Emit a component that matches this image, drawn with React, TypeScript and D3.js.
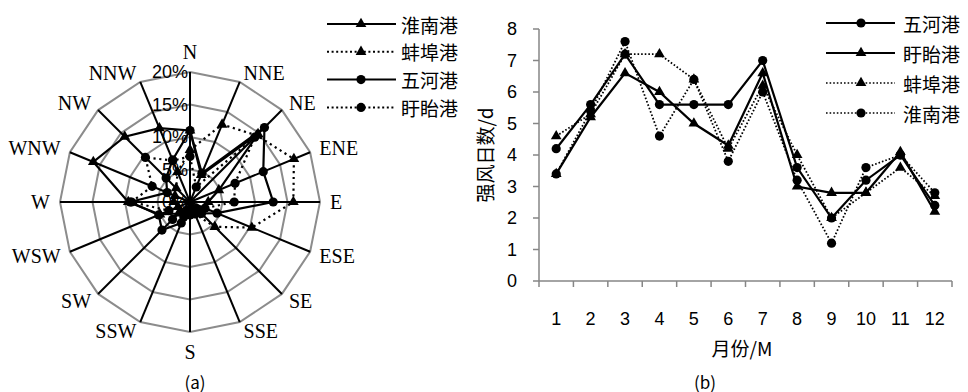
import React from "react";
import * as d3 from "d3";

// wind directions for the rose (a)
const directions = ["N", "NNE", "NE", "ENE", "E", "ESE", "SE", "SSE", "S", "SSW", "SW", "WSW", "W", "WNW", "NW", "NNW"];
const radarTicks = [0, 5, 10, 15, 20];

// frequency (%) per direction
const roseHuainan = [11, 4.5, 14.8, 4.8, 2.8, 2.5, 1.5, 1.2, 1.0, 1.5, 2.5, 5.0, 9.5, 16.1, 14.2, 12.3];
const roseBengbu = [8.0, 12.9, 14.5, 17.3, 15.9, 10.3, 5.4, 2.0, 1.2, 1.5, 2.0, 2.0, 2.5, 2.5, 3.0, 5.0];
const roseWuhe = [11, 4.8, 16.2, 12.2, 12.8, 4.5, 2.5, 2.0, 2.0, 3.5, 6.1, 5.2, 9.2, 3.8, 5.2, 7.0];
const roseXuyi = [7.0, 2.5, 14.1, 7.5, 6.8, 2.5, 1.5, 1.5, 1.5, 2.5, 3.8, 3.5, 9.0, 6.3, 9.7, 6.9];

// strong wind days per month (b)
const months = ["1", "2", "3", "4", "5", "6", "7", "8", "9", "10", "11", "12"];
const yTicks = [0, 1, 2, 3, 4, 5, 6, 7, 8];
const daysWuhe = [4.2, 5.6, 7.2, 5.6, 5.6, 5.6, 7.0, 3.6, 2.0, 3.2, 4.0, 2.4];
const daysXuyi = [3.4, 5.2, 6.6, 6.0, 5.0, 4.3, 6.6, 3.0, 2.8, 2.8, 4.1, 2.2];
const daysBengbu = [4.6, 5.3, 7.2, 7.2, 6.4, 4.2, 6.2, 4.0, 2.0, 2.8, 3.6, 2.7];
const daysHuainan = [3.4, 5.4, 7.6, 4.6, 6.4, 3.8, 6.0, 3.2, 1.2, 3.6, 4.0, 2.8];

const roseSeries = [
  { name: "淮南港", values: roseHuainan, dotted: false, marker: "tri" },
  { name: "蚌埠港", values: roseBengbu, dotted: true, marker: "tri" },
  { name: "五河港", values: roseWuhe, dotted: false, marker: "dot" },
  { name: "盱眙港", values: roseXuyi, dotted: true, marker: "dot" },
];

const lineSeries = [
  { name: "五河港", values: daysWuhe, dotted: false, marker: "dot" },
  { name: "盱眙港", values: daysXuyi, dotted: false, marker: "tri" },
  { name: "蚌埠港", values: daysBengbu, dotted: true, marker: "tri" },
  { name: "淮南港", values: daysHuainan, dotted: true, marker: "dot" },
];

const cjk = "'Noto Sans CJK SC', sans-serif";
const serif = "'Liberation Serif', 'DejaVu Serif', serif";
const sans = "'Liberation Sans', Arial, sans-serif";

const triPath = d3.symbol(d3.symbolTriangle, 50)()!;

function Marker({ kind, x, y }: { kind: string; x: number; y: number }) {
  if (kind === "tri") return <path d={triPath} transform={`translate(${x},${y})`} fill="#000" />;
  return <circle cx={x} cy={y} r={4.6} fill="#000" />;
}

function Rose() {
  const cx = 190;
  const cy = 202;
  const r = d3.scaleLinear().domain([0, 20]).range([0, 130]);
  const angle = d3.scalePoint<string>().domain(directions).range([0, 2 * Math.PI]).padding(0);
  // scalePoint over 16 names spreads to 2π inclusive; use step instead
  const step = (2 * Math.PI) / directions.length;
  const ang = (i: number) => i * step;
  void angle;

  const ring = (v: number) =>
    d3.lineRadial<string>().angle((_, i) => ang(i)).radius(() => r(v)).curve(d3.curveLinearClosed)(directions)!;

  const line = d3.lineRadial<number>().angle((_, i) => ang(i)).radius((d) => r(d)).curve(d3.curveLinearClosed);

  return (
    <g>
      <g transform={`translate(${cx},${cy})`}>
        {radarTicks.slice(1).map((v) => (
          <path key={v} d={ring(v)} fill="none" stroke="#8c8c8c" strokeWidth={2} />
        ))}
        {directions.map((d, i) => (
          <line key={d} x1={0} y1={0} x2={Math.sin(ang(i)) * r(20)} y2={-Math.cos(ang(i)) * r(20)} stroke="#000" strokeWidth={2} />
        ))}
        {roseSeries.map((s) => (
          <g key={s.name}>
            <path d={line(s.values)!} fill="none" stroke="#000" strokeWidth={2.2} strokeDasharray={s.dotted ? "2.2,3.6" : undefined} />
            {s.values.map((v, i) => (
              <Marker key={i} kind={s.marker} x={Math.sin(ang(i)) * r(v)} y={-Math.cos(ang(i)) * r(v)} />
            ))}
          </g>
        ))}
        {radarTicks.map((v) => (
          <text key={v} x={-2} y={-r(v)} textAnchor="end" dominantBaseline="central" fontFamily={sans} fontSize={18}>
            {v}%
          </text>
        ))}
        {directions.map((d, i) => {
          const s = Math.sin(ang(i));
          const c = Math.cos(ang(i));
          const vertical = Math.abs(s) < 0.01;
          const R = vertical ? 150 : 140;
          return (
            <text key={d} x={s * R} y={-c * R} textAnchor={vertical ? "middle" : s > 0 ? "start" : "end"} dominantBaseline="central" fontFamily={serif} fontSize={20}>
              {d}
            </text>
          );
        })}
      </g>
      {roseSeries.map((s, i) => {
        const y = 24 + i * 27.8;
        return (
          <g key={s.name}>
            <line x1={327} x2={396} y1={y} y2={y} stroke="#000" strokeWidth={2} strokeDasharray={s.dotted ? "2,2.6" : undefined} />
            <Marker kind={s.marker} x={361} y={y} />
            <text x={401} y={y} dominantBaseline="central" fontFamily={cjk} fontSize={19}>
              {s.name}
            </text>
          </g>
        );
      })}
      <text x={195} y={381} textAnchor="middle" dominantBaseline="central" fontFamily={cjk} fontSize={17}>
        (a)
      </text>
    </g>
  );
}

function Lines() {
  const x = d3.scaleBand<string>().domain(months).range([539, 952]);
  const y = d3.scaleLinear().domain([0, 8]).range([281, 29]);
  const line = d3
    .line<number>()
    .x((_, i) => x(months[i])! + x.bandwidth() / 2)
    .y((d) => y(d));
  const bounds = months.map((m) => x(m)!).concat([952]);

  return (
    <g>
      <line x1={539} x2={539} y1={y(8)} y2={y(0)} stroke="#868686" strokeWidth={1.5} />
      {yTicks.map((t) => (
        <g key={t}>
          <line x1={533} x2={539} y1={y(t)} y2={y(t)} stroke="#868686" strokeWidth={1.5} />
          <text x={517} y={y(t)} textAnchor="end" dominantBaseline="central" fontFamily={sans} fontSize={18}>
            {t}
          </text>
        </g>
      ))}
      <line x1={539} x2={952} y1={y(0)} y2={y(0)} stroke="#868686" strokeWidth={1.5} />
      {bounds.map((b, i) => (
        <line key={i} x1={b} x2={b} y1={y(0)} y2={y(0) + 6} stroke="#868686" strokeWidth={1.5} />
      ))}
      {months.map((m) => (
        <text key={m} x={x(m)! + x.bandwidth() / 2} y={319} textAnchor="middle" dominantBaseline="central" fontFamily={sans} fontSize={18}>
          {m}
        </text>
      ))}
      {lineSeries.map((s) => (
        <g key={s.name}>
          <path d={line(s.values)!} fill="none" stroke="#000" strokeWidth={s.dotted ? 1.8 : 2.2} strokeDasharray={s.dotted ? "1.6,2" : undefined} />
          {s.values.map((v, i) => (
            <Marker key={i} kind={s.marker} x={x(months[i])! + x.bandwidth() / 2} y={y(v)} />
          ))}
        </g>
      ))}
      {lineSeries.map((s, i) => {
        const ly = 23 + i * 30;
        return (
          <g key={s.name}>
            <line x1={826} x2={895} y1={ly} y2={ly} stroke="#000" strokeWidth={s.dotted ? 1.6 : 2} strokeDasharray={s.dotted ? "1.6,2" : undefined} />
            <Marker kind={s.marker} x={861} y={ly} />
            <text x={903} y={ly} dominantBaseline="central" fontFamily={cjk} fontSize={19}>
              {s.name}
            </text>
          </g>
        );
      })}
      <text transform="translate(484,155) rotate(-90)" textAnchor="middle" dominantBaseline="central" fontFamily={cjk} fontSize={19}>
        强风日数/d
      </text>
      <text x={742} y={347} textAnchor="middle" dominantBaseline="central" fontFamily={cjk} fontSize={19}>
        月份/M
      </text>
      <text x={705} y={381} textAnchor="middle" dominantBaseline="central" fontFamily={cjk} fontSize={17}>
        (b)
      </text>
    </g>
  );
}

export default function App() {
  return (
    <svg width={968} height={392} style={{ position: "absolute", left: 0, top: 0, background: "#fff" }}>
      <rect width={968} height={392} fill="#fff" />
      <Rose />
      <Lines />
    </svg>
  );
}
